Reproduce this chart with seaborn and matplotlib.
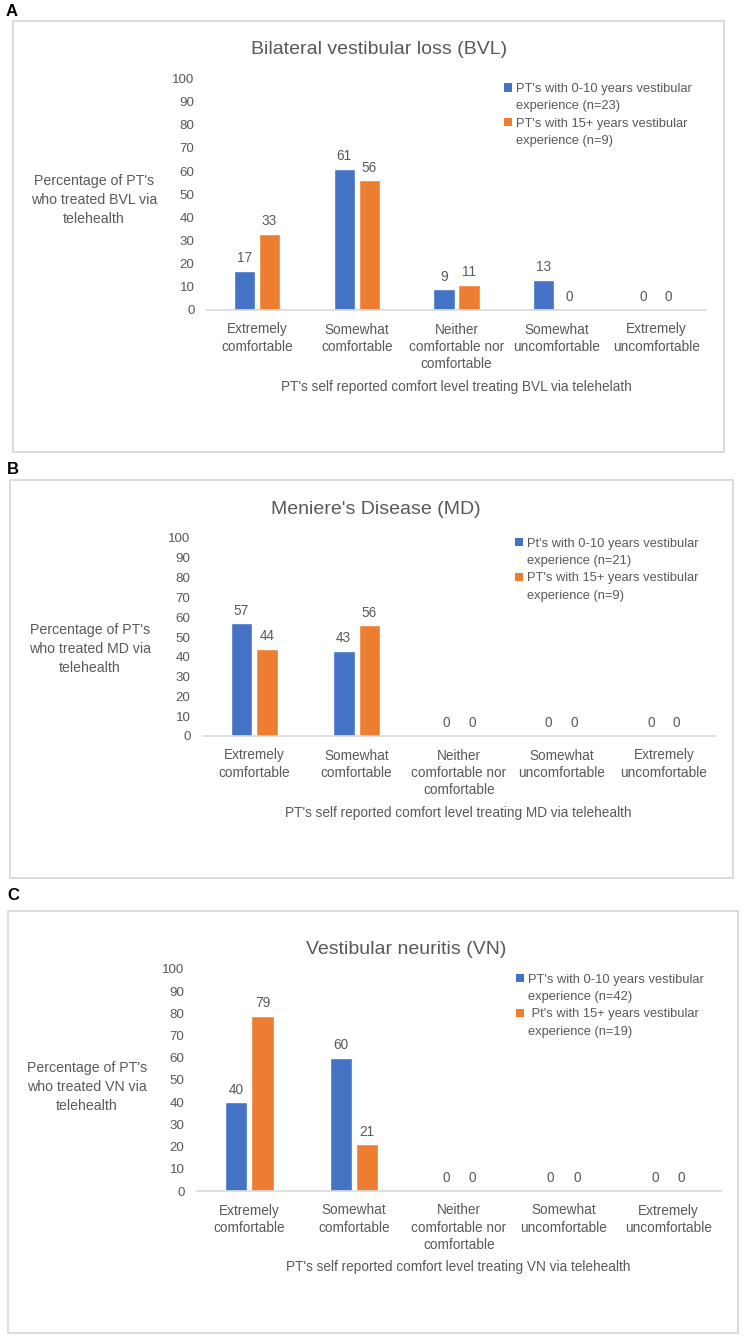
''' Three grouped bar charts: PT comfort level treating BVL, MD and VN via telehealth. '''

import pandas as pd
import matplotlib
matplotlib.use("Agg")
import matplotlib.pyplot as plt
from matplotlib import font_manager
from matplotlib.patches import Rectangle, Patch
import seaborn as sns

W, H = 744, 1339  # figure size in pixels (dpi 100)

# --- data ---
categories = ["Extremely comfortable", "Somewhat comfortable",
              "Neither comfortable nor comfortable",
              "Somewhat uncomfortable", "Extremely uncomfortable"]
tick_labels = ["Extremely\ncomfortable", "Somewhat\ncomfortable",
               "Neither\ncomfortable nor\ncomfortable",
               "Somewhat\nuncomfortable", "Extremely\nuncomfortable"]
groups = ["0-10 years", "15+ years"]
yticks = [0, 10, 20, 30, 40, 50, 60, 70, 80, 90, 100]

bvl_0_10 = [17, 61, 9, 13, 0]
bvl_15 = [33, 56, 11, 0, 0]
md_0_10 = [57, 43, 0, 0, 0]
md_15 = [44, 56, 0, 0, 0]
vn_0_10 = [40, 60, 0, 0, 0]
vn_15 = [79, 21, 0, 0, 0]

titles = ["Bilateral vestibular loss (BVL)", "Meniere's Disease (MD)", "Vestibular neuritis (VN)"]
letters = ["A", "B", "C"]
ylabels = ["Percentage of PT's\nwho treated BVL via\ntelehealth",
           "Percentage of PT's\nwho treated MD via\ntelehealth",
           "Percentage of PT's\nwho treated VN via\ntelehealth"]
xlabels = ["PT's self reported comfort level treating BVL via telehelath",
           "PT's self reported comfort level treating MD via telehealth",
           "PT's self reported comfort level treating VN via telehealth"]
legend_texts = [
    [["PT's with 0-10 years vestibular", "experience (n=23)"],
     ["PT's with 15+ years vestibular", "experience (n=9)"]],
    [["Pt's with 0-10 years vestibular", "experience (n=21)"],
     ["PT's with 15+ years vestibular", "experience (n=9)"]],
    [["PT's with 0-10 years vestibular", "experience (n=42)"],
     [" Pt's with 15+ years vestibular", "experience (n=19)"]],
]

BLUE = "#4472C4"
ORANGE = "#ED7D31"
GREY = "#595959"
LINE = "#D9D9D9"

# --- layout in pixels (left, top, right, bottom) ---
boxes = [(13, 21, 724, 452), (9.5, 480, 733, 878), (8, 911, 738, 1333)]
axes_px = [(207, 78.5, 706, 310), (203, 538, 715, 736), (197, 969, 721, 1191)]
letter_pos = [(6, 11), (7, 469), (7, 896)]
title_pos = [(379, 49), (376, 509), (406, 949)]
ylabel_pos = [(94, 200), (90, 649), (87, 1087)]
xlabel_pos = [(456, 387), (458, 813), (458, 1267)]
legend_pos = [(504, 83), (515, 537.5), (516, 973.5)]


def fx(x):
    return x / W


def fy(y):
    return 1 - y / H


def drawPanel(fig, i, young, senior):
    df = pd.DataFrame({
        "Kategooria": categories * 2,
        "Grupp": [groups[0]] * 5 + [groups[1]] * 5,
        "Protsent": young + senior,
    })
    l, t, r, b = axes_px[i]
    ax = fig.add_axes([fx(l), fy(b), (r - l) / W, (b - t) / H])
    sns.barplot(data=df, x="Kategooria", y="Protsent", hue="Grupp",
                order=categories, hue_order=groups,
                palette=[BLUE, ORANGE], width=0.5, gap=0.15,
                saturation=1, legend=False, ax=ax)
    ax.set_xlim(-0.5, 4.5)
    ax.set_ylim(0, 100)
    ax.set_yticks(yticks)
    ax.set_xticks(range(5))
    ax.set_xticklabels(tick_labels, fontsize=9.8, color=GREY, linespacing=1.3)
    ax.tick_params(axis="y", length=0, pad=9, labelsize=9.6, labelcolor=GREY)
    ax.tick_params(axis="x", length=0, pad=9)
    ax.set_xlabel("")
    ax.set_ylabel("")
    for side in ["top", "right", "left"]:
        ax.spines[side].set_visible(False)
    ax.spines["bottom"].set_color(LINE)
    ax.spines["bottom"].set_linewidth(1.2)
    ax.patch.set_alpha(0)

    for cont, vals in zip(ax.containers, [young, senior]):
        ax.bar_label(cont, labels=[str(v) for v in vals], padding=4,
                     fontsize=9.8, color=GREY)

    # legend: square next to first line, second line without marker
    handles = []
    labels = []
    for col, txt in zip([BLUE, ORANGE], legend_texts[i]):
        handles.append(Patch(facecolor=col, edgecolor="none"))
        labels.append(txt[0])
        handles.append(Patch(facecolor="none", edgecolor="none"))
        labels.append(txt[1])
    lx, ly = legend_pos[i]
    ax.legend(handles, labels, loc="upper left",
              bbox_to_anchor=(fx(lx), fy(ly)), bbox_transform=fig.transFigure,
              frameon=False, fontsize=9.3, labelcolor=GREY,
              handlelength=0.6, handleheight=0.6, handletextpad=0.35,
              labelspacing=0.42, borderpad=0, borderaxespad=0)

    # box around the panel
    bl, bt, br, bb = boxes[i]
    fig.add_artist(Rectangle((fx(bl), fy(bb)), (br - bl) / W, (bb - bt) / H,
                             transform=fig.transFigure, fill=False,
                             edgecolor=LINE, linewidth=1.3))
    x, y = letter_pos[i]
    fig.text(fx(x), fy(y), letters[i], fontsize=12, fontweight="bold",
             color="black", ha="left", va="center")
    x, y = title_pos[i]
    fig.text(fx(x), fy(y), titles[i], fontsize=14, color=GREY,
             ha="center", va="center")
    x, y = ylabel_pos[i]
    fig.text(fx(x), fy(y), ylabels[i], fontsize=10.2, color=GREY,
             ha="center", va="center", linespacing=1.45)
    x, y = xlabel_pos[i]
    fig.text(fx(x), fy(y), xlabels[i], fontsize=9.8, color=GREY,
             ha="center", va="center")
    return ax


def main():
    sns.set_theme(style="white")
    names = {f.name for f in font_manager.fontManager.ttflist}
    font = "Liberation Sans" if "Liberation Sans" in names else "DejaVu Sans"
    plt.rcParams["font.family"] = [font, "DejaVu Sans"]

    fig = plt.figure(figsize=(W / 100, H / 100), dpi=100)
    fig.patch.set_facecolor("white")
    drawPanel(fig, 0, bvl_0_10, bvl_15)
    drawPanel(fig, 1, md_0_10, md_15)
    drawPanel(fig, 2, vn_0_10, vn_15)
    fig.savefig("out.png", dpi=100)


if __name__ == '__main__':
    main()
